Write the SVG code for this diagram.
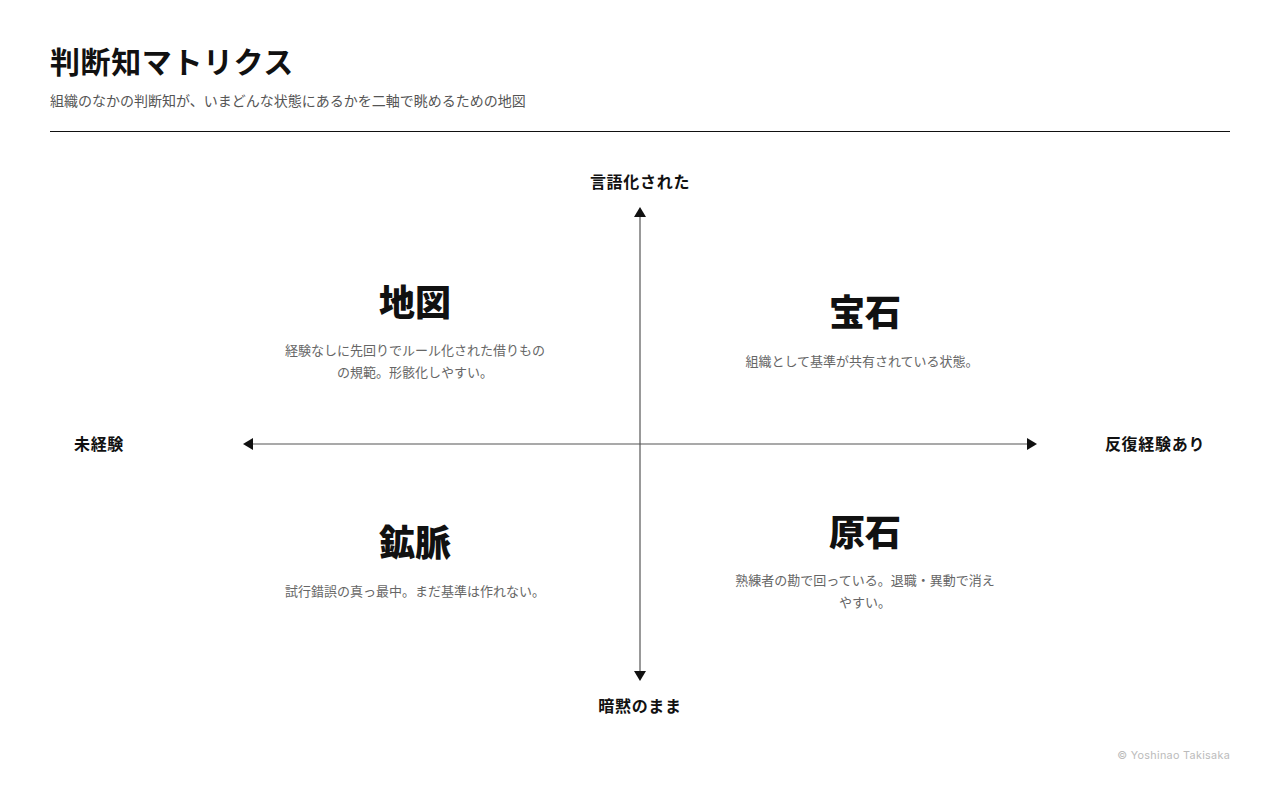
<svg xmlns="http://www.w3.org/2000/svg" width="1280" height="800" viewBox="0 0 1280 800">
<style>
text{font-family:"Noto Sans CJK JP","Noto Sans",sans-serif;}
.title{font-size:30px;font-weight:700;fill:#111;letter-spacing:0.6px;}
.sub{font-size:14px;fill:#555;}
.axis{font-size:16px;font-weight:700;fill:#111;letter-spacing:0.7px;text-anchor:middle;}
.qt{font-size:36px;font-weight:900;fill:#111;text-anchor:middle;}
.qd{font-size:13px;fill:#666;text-anchor:middle;}
.axline{stroke:#555;stroke-width:1.2;fill:none;}
.copy{font-family:"Inter","Liberation Sans",sans-serif;font-size:10.8px;fill:#bbb;text-anchor:end;letter-spacing:0.3px;}
</style>
<defs>
<marker id="ah" viewBox="0 0 10 12" refX="0" refY="6" markerWidth="10" markerHeight="12" markerUnits="userSpaceOnUse" orient="auto-start-reverse">
<path d="M0,0 L10,6 L0,12 Z" fill="#111"/>
</marker>
</defs>
<rect width="1280" height="800" fill="#fff"/>
<g id="header">
<text class="title" x="50" y="73">判断知マトリクス</text>
<text class="sub" x="50" y="106">組織のなかの判断知が、いまどんな状態にあるかを二軸で眺めるための地図</text>
<line x1="50" y1="131.5" x2="1230" y2="131.5" stroke="#111" stroke-width="1"/>
</g>
<g id="connectors">
<line class="axline" x1="640" y1="217" x2="640" y2="671" marker-start="url(#ah)" marker-end="url(#ah)"/>
<line class="axline" x1="253" y1="444" x2="1027" y2="444" marker-start="url(#ah)" marker-end="url(#ah)"/>
</g>
<g id="axis-labels">
<text class="axis" x="640" y="188">言語化された</text>
<text class="axis" x="640" y="712">暗黙のまま</text>
<text class="axis" x="99" y="450">未経験</text>
<text class="axis" x="1155" y="450">反復経験あり</text>
</g>
<g id="q-chizu">
<text class="qt" x="415" y="316">地図</text>
<text class="qd" x="415" y="355">経験なしに先回りでルール化された借りもの</text>
<text class="qd" x="415" y="377">の規範。形骸化しやすい。</text>
</g>
<g id="q-houseki">
<text class="qt" x="865" y="326">宝石</text>
<text class="qd" x="862" y="366">組織として基準が共有されている状態。</text>
</g>
<g id="q-koumyaku">
<text class="qt" x="415" y="556">鉱脈</text>
<text class="qd" x="415" y="596">試行錯誤の真っ最中。まだ基準は作れない。</text>
</g>
<g id="q-genseki">
<text class="qt" x="865" y="546">原石</text>
<text class="qd" x="865" y="585">熟練者の勘で回っている。退職・異動で消え</text>
<text class="qd" x="865" y="607">やすい。</text>
</g>
<text class="copy" x="1230" y="759">© Yoshinao Takisaka</text>
</svg>
